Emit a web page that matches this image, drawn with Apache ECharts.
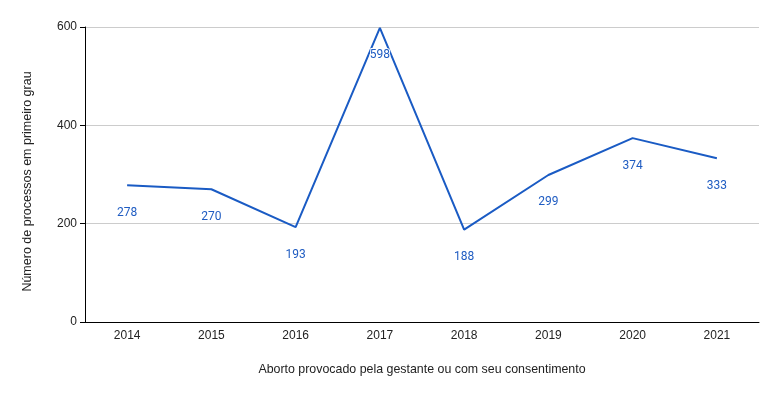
<!DOCTYPE html>
<html>
<head>
<meta charset="utf-8">
<script src="https://cdn.jsdelivr.net/npm/echarts@6/dist/echarts.min.js"></script>
<style>html,body{margin:0;padding:0;background:#fff;}#c{width:779px;height:395px;}</style>
</head>
<body>
<div id="c"></div>
<script>
const categories = ['2014','2015','2016','2017','2018','2019','2020','2021'];
const values = [278, 270, 193, 598, 188, 299, 374, 333];
const yTicks = [0, 200, 400, 600];

const chart = echarts.init(document.getElementById('c'), null, {renderer: 'canvas'});
chart.setOption({
  animation: false,
  backgroundColor: '#ffffff',
  textStyle: {fontFamily: 'Liberation Sans, Arial, sans-serif'},
  grid: {left: 85, right: 20, top: 27, bottom: 73},
  xAxis: {
    type: 'category',
    data: categories,
    boundaryGap: true,
    name: 'Aborto provocado pela gestante ou com seu consentimento',
    nameLocation: 'middle',
    nameGap: 42,
    nameTextStyle: {color: '#222', fontSize: 12.4},
    axisLine: {lineStyle: {color: '#000', width: 1}},
    axisTick: {show: false},
    axisLabel: {color: '#222', fontSize: 12, margin: 8}
  },
  yAxis: {
    type: 'value',
    min: yTicks[0],
    max: yTicks[yTicks.length - 1],
    interval: 200,
    name: 'Número de processos em primeiro grau',
    nameLocation: 'middle',
    nameGap: 51,
    nameTextStyle: {color: '#222', fontSize: 12.5, padding: [0, 14, 0, 0]},
    axisLine: {show: true, lineStyle: {color: '#000', width: 1}},
    axisTick: {show: true, length: 5, lineStyle: {color: '#000'}},
    axisLabel: {color: '#222', fontSize: 12, margin: 8},
    splitLine: {lineStyle: {color: '#cccccc', width: 1}}
  },
  series: [{
    type: 'line',
    data: values,
    smooth: false,
    symbol: 'circle',
    symbolSize: 1,
    showSymbol: true,
    itemStyle: {color: '#1a5bc4', opacity: 0},
    lineStyle: {color: '#1a5bc4', width: 2},
    label: {
      show: true,
      position: 'bottom',
      distance: 21,
      color: '#1f5cc2',
      fontFamily: 'Roboto',
      fontSize: 12,
      opacity: 1,
      textBorderColor: '#fff',
      textBorderWidth: 2
    }
  }]
});
</script>
</body>
</html>
